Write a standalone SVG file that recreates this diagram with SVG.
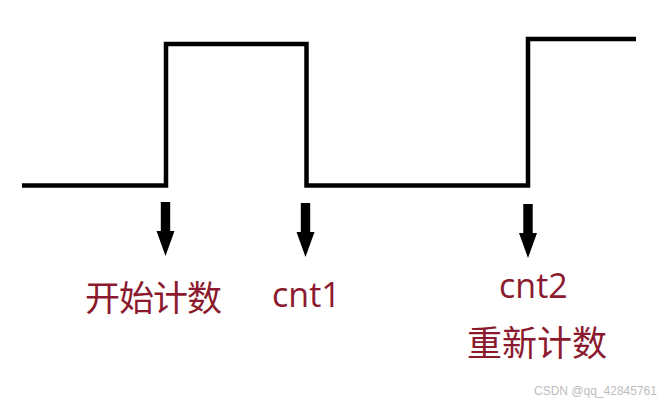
<svg xmlns="http://www.w3.org/2000/svg" width="671" height="404" viewBox="0 0 671 404">
<style>
.wave{fill:none;stroke:#000;stroke-width:4.5;stroke-linejoin:miter;stroke-linecap:butt}
.lbl{fill:#8B1A2E;font-family:"Noto Sans CJK SC","Noto Sans",sans-serif}
.lat{fill:#8B1A2E;font-family:"Open Sans","Noto Sans",sans-serif;font-size:34px}
.wm{fill:#bdbdbd;font-family:"Liberation Sans",sans-serif;font-size:12px}
</style>
<defs>
<path id="arr" d="M-4.7,0 H4.7 V29 H9 L0,54 L-9,29 H-4.7 Z" fill="#000"/>
</defs>
<rect width="671" height="404" fill="#fff"/>
<g id="connectors">
<path class="wave" d="M22,185.5 H166 V44 H306.5 V185.5 H528 V39 H636"/>
</g>
<g id="arrow1"><use href="#arr" x="165.5" y="202"/></g>
<g id="arrow2"><use href="#arr" x="305.5" y="203"/></g>
<g id="arrow3"><use href="#arr" x="528" y="204"/></g>
<g id="label1"><text class="lbl" x="85" y="311" font-size="35" textLength="137">开始计数</text></g>
<g id="label2"><text class="lat" x="272" y="307">cnt1</text></g>
<g id="label3"><text class="lat" x="499" y="298">cnt2</text></g>
<g id="label4"><text class="lbl" x="467" y="356" font-size="35" textLength="140">重新计数</text></g>
<text class="wm" x="534" y="395">CSDN @qq_42845761</text>
</svg>
